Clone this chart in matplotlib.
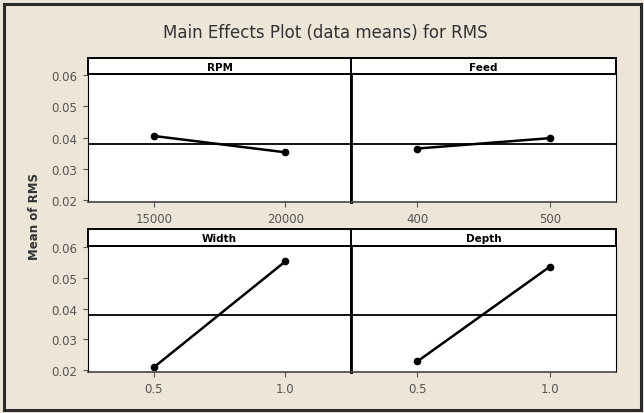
import matplotlib
matplotlib.use('Agg')
import matplotlib.pyplot as plt
from matplotlib.patches import Rectangle

# factor levels and the mean RMS at each level
factors = ['RPM', 'Feed', 'Width', 'Depth']
levels = [[15000, 20000], [400, 500], [0.5, 1.0], [0.5, 1.0]]
level_labels = [['15000', '20000'], ['400', '500'], ['0.5', '1.0'], ['0.5', '1.0']]
means = [[0.0405, 0.0353], [0.0365, 0.0398], [0.0210, 0.0552], [0.0229, 0.0535]]
grand_mean = 0.0380
y_ticks = [0.02, 0.03, 0.04, 0.05, 0.06]

W, H = 644, 414
fig = plt.figure(figsize=(W / 100, H / 100), dpi=100)
bg = '#ece5d8'
fig.patch.set_facecolor(bg)

# outer frame
fig.patches.append(Rectangle((4 / W, 1 - 411 / H), 637 / W, 406 / H, transform=fig.transFigure,
                             fill=False, edgecolor='#2a2a2a', linewidth=2.2))

fig.text(0.505, 1 - 33 / H, 'Main Effects Plot (data means) for RMS', ha='center', va='center',
         fontsize=12, color='#333333')
fig.text(35 / W, 1 - 217 / H, 'Mean of RMS', rotation=90, ha='center', va='center',
         fontsize=8.5, fontweight='bold', color='#333333')

# pixel boxes: (left, right) and (strip top, axes top, axes bottom)
cols = [(88, 351), (351, 616)]
rows = [(59, 75, 203), (230, 247, 373)]

for i, name in enumerate(factors):
    r, c = divmod(i, 2)
    x0, x1 = cols[c]
    st, at, ab = rows[r]
    ax = fig.add_axes([x0 / W, 1 - ab / H, (x1 - x0) / W, (ab - at) / H])
    ax.set_facecolor('white')
    lo, hi = levels[i]
    d = hi - lo
    ax.plot(levels[i], means[i], color='black', linewidth=1.8, marker='o', markersize=4.5)
    ax.axhline(grand_mean, color='black', linewidth=1.3)
    ax.set_xlim(lo - 0.5 * d, hi + 0.5 * d)
    ax.set_ylim(0.0195, 0.0602)
    ax.set_xticks(levels[i])
    ax.set_xticklabels(level_labels[i])
    ax.set_yticks(y_ticks)
    if c == 0:
        ax.set_yticklabels(['%.2f' % v for v in y_ticks])
        ax.spines['right'].set_linewidth(2)
    else:
        ax.tick_params(axis='y', left=False, labelleft=False)
        ax.spines['left'].set_linewidth(2)
    ax.tick_params(axis='both', labelsize=8.5, colors='#555555', length=3.5, width=0.8, pad=4)
    for sp in ['top', 'bottom']:
        ax.spines[sp].set_linewidth(1.2)
    for sp in ax.spines.values():
        sp.set_color('black')
    ax.spines['bottom'].set_color('#444444')

    # strip header
    sx = fig.add_axes([x0 / W, 1 - at / H, (x1 - x0) / W, (at - st) / H])
    sx.set_facecolor('white')
    sx.set_xticks([])
    sx.set_yticks([])
    for sp in sx.spines.values():
        sp.set_linewidth(1.4)
        sp.set_color('black')
    sx.text(0.5, 0.45, name, ha='center', va='center', fontsize=7.5, fontweight='bold',
            transform=sx.transAxes)

fig.savefig('out.png', dpi=100, facecolor=fig.get_facecolor())
